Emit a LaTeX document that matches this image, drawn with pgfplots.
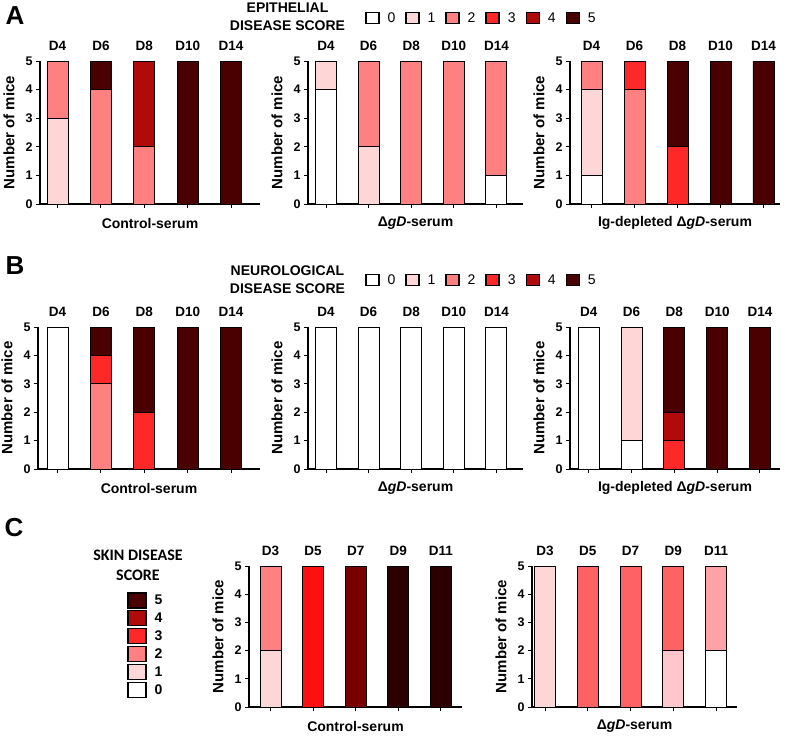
\documentclass[border=0pt]{standalone}
\usepackage{fontspec}
\setmainfont{Liberation Sans}
\newfontfamily\carlito{Carlito}
\usepackage{pgfplots}
\pgfplotsset{compat=1.18}

\definecolor{s0}{HTML}{FFFFFF}
\definecolor{s1}{HTML}{FFD6D6}
\definecolor{s2}{HTML}{FF8080}
\definecolor{s3}{HTML}{FF2828}
\definecolor{s4}{HTML}{B00A0A}
\definecolor{s5}{HTML}{4A0000}
\definecolor{ca}{HTML}{FFD6D6}
\definecolor{cb}{HTML}{FF8080}
\definecolor{cc}{HTML}{FF1010}
\definecolor{cd}{HTML}{780000}
\definecolor{ce}{HTML}{2C0000}
\definecolor{cf}{HTML}{FF6262}
\definecolor{cg}{HTML}{FFC6CB}
\definecolor{ch}{HTML}{FFA2A8}

\tikzset{daylab/.style={anchor=base, yshift=11pt, font=\bfseries\fontsize{13.5}{13.5}\selectfont}}
\pgfplotsset{
 mice/.style={
  scale only axis, anchor=south west,
  ybar stacked, bar width=21pt,
  axis lines=left, axis line style={-, line width=1.1pt, black},
  enlargelimits=false,
  ymin=0, ymax=5, ytick={0,1,2,3,4,5},
  xtick={0,1,2,3,4}, xticklabels={},
  tick align=outside, major tick length=4pt,
  every tick/.style={black, line width=1pt},
  tick label style={font=\bfseries\fontsize{12.5}{12.5}\selectfont},
  /pgf/number format/assume math mode=true,
  ylabel={Number of mice},
  every axis y label/.style={at={(axis description cs:0,0.5)}, xshift=-31pt, rotate=90, anchor=center, font=\bfseries\fontsize{15}{15}\selectfont},
  every axis x label/.style={at={(axis description cs:0.5,0)}, yshift=-19pt, anchor=center, font=\bfseries\fontsize{14}{14}\selectfont},
  every axis plot/.append style={draw=black, line width=0.9pt},
  clip=false,
 },
 sq/.style={legend image code/.code={\draw[##1] (0pt,-5.5pt) rectangle (13pt,5.5pt);}},
 sqc/.style={legend image code/.code={\draw[##1] (0pt,-7.5pt) rectangle (18pt,7.5pt);}},
 hlegend/.style={
  scale only axis, anchor=south west, hide axis, width=10pt, height=10pt,
  xmin=0, xmax=1, ymin=0, ymax=1,
  legend columns=6,
  legend style={draw=none, fill=none, anchor=west, font=\fontsize{14}{14}\selectfont,
   /tikz/every odd column/.append style={column sep=6pt},
   /tikz/every even column/.append style={column sep=8pt}},
 },
}

\newcommand{\daysA}{%
 \node[daylab] at (axis cs:0,5) {D4};
 \node[daylab] at (axis cs:1,5) {D6};
 \node[daylab] at (axis cs:2,5) {D8};
 \node[daylab] at (axis cs:3,5) {D10};
 \node[daylab] at (axis cs:4,5) {D14};}
\newcommand{\daysC}{%
 \node[daylab] at (axis cs:0,5) {D3};
 \node[daylab] at (axis cs:1,5) {D5};
 \node[daylab] at (axis cs:2,5) {D7};
 \node[daylab] at (axis cs:3,5) {D9};
 \node[daylab] at (axis cs:4,5) {D11};}

\begin{document}
\begin{tikzpicture}
\useasboundingbox (0,0) rectangle (787pt,-736pt);

% panel letters
\node[font=\bfseries\fontsize{26}{26}\selectfont] at (15pt,-16pt) {A};
\node[font=\bfseries\fontsize{26}{26}\selectfont] at (15pt,-266pt) {B};
\node[font=\bfseries\fontsize{26}{26}\selectfont] at (14pt,-528pt) {C};

% legend titles
\node[align=center, font=\bfseries\fontsize{14}{18}\selectfont] at (287.5pt,-16.5pt) {EPITHELIAL\\DISEASE SCORE};
\node[align=center, font=\bfseries\fontsize{14}{18}\selectfont] at (287.5pt,-280pt) {NEUROLOGICAL\\DISEASE SCORE};
\node[align=center, font=\carlito\bfseries\fontsize{16}{20}\selectfont] at (138pt,-565pt) {SKIN DISEASE\\SCORE};

% ---------- legend A ----------
\begin{axis}[hlegend, at={(0pt,0pt)}, legend style={at={(axis description cs:36.2,-1.8)}}]
\addlegendimage{sq, fill=s0, draw=black, line width=1.3pt}\addlegendentry{0}
\addlegendimage{sq, fill=s1, draw=black, line width=1.3pt}\addlegendentry{1}
\addlegendimage{sq, fill=s2, draw=black, line width=1.3pt}\addlegendentry{2}
\addlegendimage{sq, fill=s3, draw=black, line width=1.3pt}\addlegendentry{3}
\addlegendimage{sq, fill=s4, draw=black, line width=1.3pt}\addlegendentry{4}
\addlegendimage{sq, fill=s5, draw=black, line width=1.3pt}\addlegendentry{5}
\end{axis}
% ---------- legend B ----------
\begin{axis}[hlegend, at={(0pt,0pt)}, legend style={at={(axis description cs:36.2,-28.0)}}]
\addlegendimage{sq, fill=s0, draw=black, line width=1.3pt}\addlegendentry{0}
\addlegendimage{sq, fill=s1, draw=black, line width=1.3pt}\addlegendentry{1}
\addlegendimage{sq, fill=s2, draw=black, line width=1.3pt}\addlegendentry{2}
\addlegendimage{sq, fill=s3, draw=black, line width=1.3pt}\addlegendentry{3}
\addlegendimage{sq, fill=s4, draw=black, line width=1.3pt}\addlegendentry{4}
\addlegendimage{sq, fill=s5, draw=black, line width=1.3pt}\addlegendentry{5}
\end{axis}
% ---------- legend C ----------
\begin{axis}[hlegend, at={(0pt,0pt)}, legend columns=1,
  legend style={at={(axis description cs:12.4,-59.0)}, anchor=north west,
  font=\bfseries\fontsize{14}{14}\selectfont, /tikz/row sep=1.6pt}]
\addlegendimage{sqc, fill=s5, draw=black, line width=1.3pt}\addlegendentry{5}
\addlegendimage{sqc, fill=s4, draw=black, line width=1.3pt}\addlegendentry{4}
\addlegendimage{sqc, fill=s3, draw=black, line width=1.3pt}\addlegendentry{3}
\addlegendimage{sqc, fill=s2, draw=black, line width=1.3pt}\addlegendentry{2}
\addlegendimage{sqc, fill=s1, draw=black, line width=1.3pt}\addlegendentry{1}
\addlegendimage{sqc, fill=s0, draw=black, line width=1.3pt}\addlegendentry{0}
\end{axis}

% ================= Panel A =================
\begin{axis}[mice, at={(40pt,-204pt)}, width=220pt, height=143pt,
  xmin=-0.403, xmax=4.666, xlabel={Control-serum}]
\addplot[fill=s0] coordinates {(0,0) (1,0) (2,0) (3,0) (4,0)};
\addplot[fill=s1] coordinates {(0,3) (1,0) (2,0) (3,0) (4,0)};
\addplot[fill=s2] coordinates {(0,2) (1,4) (2,2) (3,0) (4,0)};
\addplot[fill=s3] coordinates {(0,0) (1,0) (2,0) (3,0) (4,0)};
\addplot[fill=s4] coordinates {(0,0) (1,0) (2,3) (3,0) (4,0)};
\addplot[fill=s5] coordinates {(0,0) (1,1) (2,0) (3,5) (4,5)};
\daysA
\end{axis}

\begin{axis}[mice, at={(308pt,-204pt)}, width=215pt, height=143pt,
  xmin=-0.423, xmax=4.624, xlabel={Δ\textit{gD}-serum}]
\addplot[fill=s0] coordinates {(0,4) (1,0) (2,0) (3,0) (4,1)};
\addplot[fill=s1] coordinates {(0,1) (1,2) (2,0) (3,0) (4,0)};
\addplot[fill=s2] coordinates {(0,0) (1,3) (2,5) (3,5) (4,4)};
\daysA
\end{axis}

\begin{axis}[mice, at={(570pt,-204pt)}, width=210pt, height=143pt,
  xmin=-0.5, xmax=4.384, xlabel={Ig-depleted Δ\textit{gD}-serum}]
\addplot[fill=s0] coordinates {(0,1) (1,0) (2,0) (3,0) (4,0)};
\addplot[fill=s1] coordinates {(0,3) (1,0) (2,0) (3,0) (4,0)};
\addplot[fill=s2] coordinates {(0,1) (1,4) (2,0) (3,0) (4,0)};
\addplot[fill=s3] coordinates {(0,0) (1,1) (2,2) (3,0) (4,0)};
\addplot[fill=s4] coordinates {(0,0) (1,0) (2,0) (3,0) (4,0)};
\addplot[fill=s5] coordinates {(0,0) (1,0) (2,3) (3,5) (4,5)};
\daysA
\end{axis}

% ================= Panel B =================
\begin{axis}[mice, at={(38pt,-469pt)}, width=222pt, height=142pt,
  xmin=-0.45, xmax=4.666, xlabel={Control-serum}]
\addplot[fill=s0] coordinates {(0,5) (1,0) (2,0) (3,0) (4,0)};
\addplot[fill=s1] coordinates {(0,0) (1,0) (2,0) (3,0) (4,0)};
\addplot[fill=s2] coordinates {(0,0) (1,3) (2,0) (3,0) (4,0)};
\addplot[fill=s3] coordinates {(0,0) (1,1) (2,2) (3,0) (4,0)};
\addplot[fill=s4] coordinates {(0,0) (1,0) (2,0) (3,0) (4,0)};
\addplot[fill=s5] coordinates {(0,0) (1,1) (2,3) (3,5) (4,5)};
\daysA
\end{axis}

\begin{axis}[mice, at={(308pt,-469pt)}, width=215pt, height=142pt,
  xmin=-0.423, xmax=4.624, xlabel={Δ\textit{gD}-serum}]
\addplot[fill=s0] coordinates {(0,5) (1,5) (2,5) (3,5) (4,5)};
\daysA
\end{axis}

\begin{axis}[mice, at={(570pt,-469pt)}, width=210pt, height=142pt,
  xmin=-0.44, xmax=4.47, xlabel={Ig-depleted Δ\textit{gD}-serum}]
\addplot[fill=s0] coordinates {(0,5) (1,1) (2,0) (3,0) (4,0)};
\addplot[fill=s1] coordinates {(0,0) (1,4) (2,0) (3,0) (4,0)};
\addplot[fill=s2] coordinates {(0,0) (1,0) (2,0) (3,0) (4,0)};
\addplot[fill=s3] coordinates {(0,0) (1,0) (2,1) (3,0) (4,0)};
\addplot[fill=s4] coordinates {(0,0) (1,0) (2,1) (3,0) (4,0)};
\addplot[fill=s5] coordinates {(0,0) (1,0) (2,3) (3,5) (4,5)};
\daysA
\end{axis}

% ================= Panel C =================
\begin{axis}[mice, at={(249pt,-707pt)}, width=213pt, height=141pt,
  xmin=-0.505, xmax=4.495, xlabel={Control-serum}]
\addplot[fill=ca] coordinates {(0,2) (1,0) (2,0) (3,0) (4,0)};
\addplot[fill=cb] coordinates {(0,3) (1,0) (2,0) (3,0) (4,0)};
\addplot[fill=cc] coordinates {(0,0) (1,5) (2,0) (3,0) (4,0)};
\addplot[fill=cd] coordinates {(0,0) (1,0) (2,5) (3,0) (4,0)};
\addplot[fill=ce] coordinates {(0,0) (1,0) (2,0) (3,5) (4,5)};
\daysC
\end{axis}

\begin{axis}[mice, at={(532pt,-707pt)}, width=205pt, height=141pt,
  xmin=-0.304, xmax=4.491, xlabel={Δ\textit{gD}-serum}]
\addplot[fill=s0] coordinates {(0,0) (1,0) (2,0) (3,0) (4,2)};
\addplot[fill=cg] coordinates {(0,0) (1,0) (2,0) (3,2) (4,0)};
\addplot[fill=ca] coordinates {(0,5) (1,0) (2,0) (3,0) (4,0)};
\addplot[fill=cf] coordinates {(0,0) (1,5) (2,5) (3,3) (4,0)};
\addplot[fill=ch] coordinates {(0,0) (1,0) (2,0) (3,0) (4,3)};
\daysC
\end{axis}
\end{tikzpicture}
\end{document}
